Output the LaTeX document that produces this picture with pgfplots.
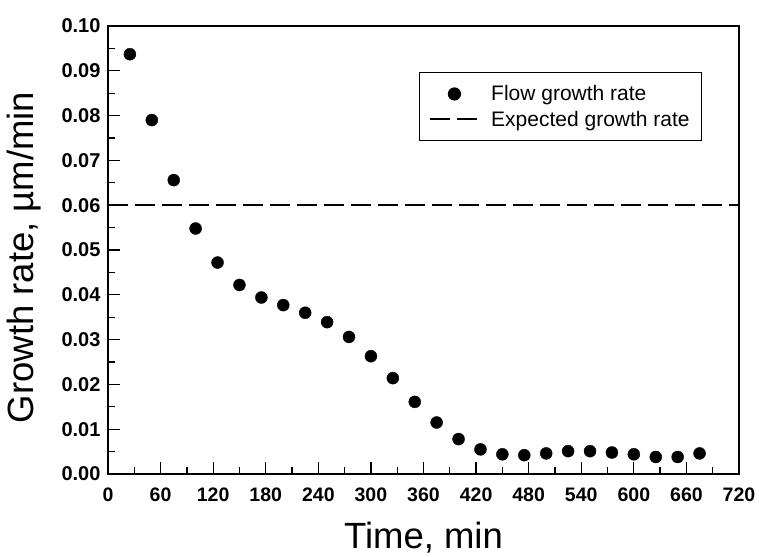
\documentclass[border=0pt]{standalone}
\usepackage{pgfplots}
\pgfplotsset{compat=1.18}
\usepackage{fontspec}
\setmainfont{Liberation Sans}
\pgfplotsset{
  legdot/.style={legend image code/.code={\draw[mark repeat=2,mark phase=2,##1] plot coordinates {(0pt,0pt) (24pt,0pt) (47pt,0pt)};}},
  legdash/.style={legend image code/.code={\draw[##1] (0pt,0pt) -- (47pt,0pt);}},
}
\begin{document}
\begin{tikzpicture}
\begin{axis}[
  scale only axis,
  width=631pt, height=448pt,
  xmin=0, xmax=720, ymin=0, ymax=0.10,
  xtick={0,60,...,720},
  ytick={0,0.01,...,0.10},
  minor x tick num=1, minor y tick num=1,
  tick pos=left, tick align=inside,
  major tick length=12pt, minor tick length=7pt,
  every tick/.style={line width=1.3pt, black},
  axis line style={line width=1.6pt},
  /pgf/number format/assume math mode=true,
  yticklabel style={/pgf/number format/fixed, /pgf/number format/fixed zerofill, /pgf/number format/precision=2, font=\fontsize{20}{23}\selectfont\bfseries, xshift=-4pt},
  xticklabel style={font=\fontsize{19.5}{22}\selectfont\bfseries, anchor=base, yshift=-27pt},
  scaled y ticks=false,
  xlabel={Time, min}, ylabel={Growth rate, µm/min},
  label style={font=\fontsize{36.5}{40}\selectfont},
  xlabel style={at={(axis description cs:0.5,0)}, anchor=base, yshift=-74pt},
  ylabel style={at={(axis description cs:0,0.5)}, anchor=center, xshift=-7.5pt, yshift=84pt},
  legend style={at={(0.4929,0.8973)}, anchor=north west, draw=black, line width=1.2pt,
    font=\fontsize{21}{24}\selectfont, cells={anchor=west}, row sep=4.5pt, inner xsep=10pt, inner ysep=11pt,
    /tikz/every odd column/.append style={column sep=11pt}},
  legend cell align=left,
]
\addplot[only marks, mark=*, mark size=6pt, black, legdot] coordinates {
(25,0.0937) (50,0.0790) (75,0.0656) (100,0.0548) (125,0.0472)
(150,0.0422) (175,0.0394) (200,0.0377) (225,0.0360) (250,0.0339)
(275,0.0306) (300,0.0263) (325,0.0214) (350,0.0161) (375,0.0115)
(400,0.0078) (425,0.0055) (450,0.0044) (475,0.0042) (500,0.0046)
(525,0.0051) (550,0.0051) (575,0.0048) (600,0.0044) (625,0.0038)
(650,0.0038) (675,0.0046)
};
\addlegendentry{Flow growth rate}
\addplot[black, line width=1.6pt, dash pattern=on 20pt off 7pt, legdash] coordinates {(0,0.06) (720,0.06)};
\addlegendentry{Expected growth rate}
\end{axis}
\path[use as bounding box] (current axis.south west) ++(-108pt,-78pt) rectangle ++(759pt,552pt);
\end{tikzpicture}
\end{document}
